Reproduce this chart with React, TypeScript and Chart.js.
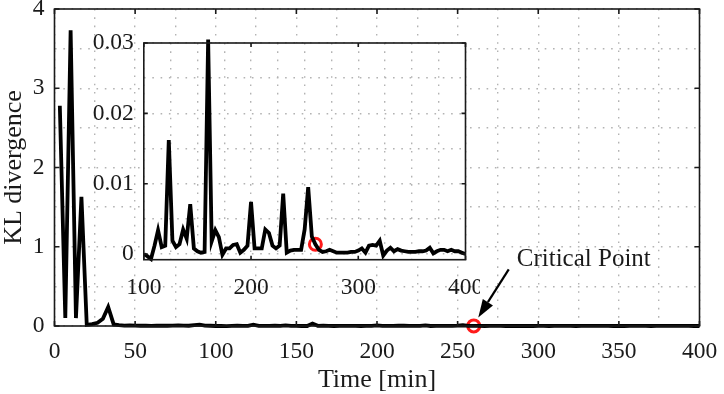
import { useEffect, useRef } from 'react';
import { Chart, registerables } from 'chart.js';

Chart.register(...registerables);

// Sampling instants [min]
const TIME_MIN = [
  3.3, 6.7, 10, 13.3, 16.7, 20, 23.3, 26.7, 30, 33.3,
  36.7, 40, 43.3, 46.7, 50, 53.3, 56.7, 60, 63.3, 66.7,
  70, 73.3, 76.7, 80, 83.3, 86.7, 90, 93.3, 96.7, 100,
  103.3, 106.7, 110, 113.3, 116.7, 120, 123.3, 126.7, 130, 133.3,
  136.7, 140, 143.3, 146.7, 150, 153.3, 156.7, 160, 163.3, 166.7,
  170, 173.3, 176.7, 180, 183.3, 186.7, 190, 193.3, 196.7, 200,
  203.3, 206.7, 210, 213.3, 216.7, 220, 223.3, 226.7, 230, 233.3,
  236.7, 240, 243.3, 246.7, 250, 253.3, 256.7, 260, 263.3, 266.7,
  270, 273.3, 276.7, 280, 283.3, 286.7, 290, 293.3, 296.7, 300,
  303.3, 306.7, 310, 313.3, 316.7, 320, 323.3, 326.7, 330, 333.3,
  336.7, 340, 343.3, 346.7, 350, 353.3, 356.7, 360, 363.3, 366.7,
  370, 373.3, 376.7, 380, 383.3, 386.7, 390, 393.3, 396.7, 400,
];

// KL divergence between consecutive windows
const KL_DIV = [
  2.78, 0.10, 3.73, 0.10, 1.63, 0.015, 0.025, 0.04, 0.09, 0.24,
  0.02, 0.012, 0.006, 0.008, 0.004, 0.003, 0.004, 0.002, 0.003, 0.005,
  0.003, 0.004, 0.007, 0.004, 0.003, 0.010, 0.018, 0.006, 0.003, 0.0,
  -0.0003, -0.0007, 0.0012, 0.0034, 0.0010, 0.0012, 0.0162, 0.0019, 0.0010, 0.0014,
  0.0035, 0.0022, 0.0071, 0.0008, 0.0004, 0.0002, 0.0003, 0.0305, 0.0018, 0.0034,
  0.0024, -0.0001, 0.0008, 0.0008, 0.0013, 0.0014, 0.0002, 0.0006, 0.0012, 0.0074,
  0.0008, 0.0008, 0.0008, 0.0035, 0.0030, 0.0012, 0.0008, 0.0012, 0.0086, 0.0002,
  0.0005, 0.0006, 0.0006, 0.0006, 0.0035, 0.0095, 0.0025, 0.0014, 0.0006, 0.0003,
  0.0004, 0.0006, 0.0004, 0.0002, 0.0002, 0.0002, 0.0002, 0.0003, 0.0003, 0.0005,
  0.0008, 0.0002, 0.0012, 0.0013, 0.0012, 0.0019, -0.0002, 0.0005, 0.0009, 0.0004,
  0.0007, 0.0005, 0.0004, 0.0003, 0.0003, 0.0003, 0.0004, 0.0004, 0.0005, 0.0009,
  0.0001, 0.0004, 0.0006, 0.0006, 0.0004, 0.0006, 0.0004, 0.0004, 0.0002, 0.0,
];

const CRITICAL_TIME = 260;
const CRITICAL_LABEL = 'Critical Point';
const X_TITLE = 'Time [min]';
const Y_TITLE = 'KL divergence';

// Axis ranges / tick steps
const MAIN_X = { min: 0, max: 400, minor: 25, major: 50 };
const MAIN_Y = { min: 0, max: 4, minor: 0.5, major: 1 };
const INSET_X = { min: 100, max: 400, minor: 25, major: 100 };
const INSET_Y = { min: -0.0008, max: 0.03, major: 0.01 };
// Inset y grid positions (labelled every 0.01)
const INSET_Y_GRID = [0, 0.005, 0.01, 0.015, 0.02, 0.025, 0.03];

const SERIF = '"Liberation Serif", "Times New Roman", Times, serif';
const INK = '#1a1a1a';
const GRID = '#b3b3b3';
const RED = '#ff1a1a';

const isMultiple = (v: number, step: number) =>
  Math.abs(v / step - Math.round(v / step)) < 1e-6;

const critIndex = TIME_MIN.indexOf(CRITICAL_TIME);

const seriesPoints = (from: number) =>
  TIME_MIN.map((t, i) => ({ x: t, y: KL_DIV[i] })).filter((p) => p.x >= from);

const criticalPoint = [{ x: TIME_MIN[critIndex], y: KL_DIV[critIndex] }];

function framePlugin(tickLen: number, xMajor: number, yMajor: number) {
  return {
    id: 'axesFrame',
    afterDatasetsDraw(chart: any) {
      const { ctx, chartArea: a, scales } = chart;
      ctx.save();
      ctx.strokeStyle = INK;
      ctx.lineWidth = 1.6;
      ctx.beginPath();
      for (const t of scales.x.ticks) {
        if (!isMultiple(t.value, xMajor)) continue;
        const p = scales.x.getPixelForValue(t.value);
        ctx.moveTo(p, a.bottom);
        ctx.lineTo(p, a.bottom - tickLen);
        ctx.moveTo(p, a.top);
        ctx.lineTo(p, a.top + tickLen);
      }
      for (const t of scales.y.ticks) {
        if (!isMultiple(t.value, yMajor)) continue;
        const p = scales.y.getPixelForValue(t.value);
        ctx.moveTo(a.left, p);
        ctx.lineTo(a.left + tickLen, p);
        ctx.moveTo(a.right, p);
        ctx.lineTo(a.right - tickLen, p);
      }
      ctx.stroke();
      ctx.strokeRect(a.left, a.top, a.right - a.left, a.bottom - a.top);
      ctx.restore();
    },
  };
}

const whitePlotArea = {
  id: 'whitePlotArea',
  beforeDraw(chart: any) {
    const { ctx, chartArea: a } = chart;
    ctx.save();
    ctx.fillStyle = '#ffffff';
    ctx.fillRect(a.left, a.top, a.right - a.left, a.bottom - a.top);
    ctx.restore();
  },
};

// Arrow pointing at the critical sample, with its caption
const criticalArrow = {
  id: 'criticalArrow',
  afterDraw(chart: any) {
    const { ctx, scales } = chart;
    const px = scales.x.getPixelForValue(TIME_MIN[critIndex]);
    const py = scales.y.getPixelForValue(KL_DIV[critIndex]);
    const tip = { x: px + 4.5, y: py - 8.5 };
    const tail = { x: px + 35, y: py - 56.5 };
    const dx = tip.x - tail.x;
    const dy = tip.y - tail.y;
    const len = Math.hypot(dx, dy);
    const ux = dx / len;
    const uy = dy / len;
    const headLen = 18;
    const headHalf = 6;
    const bx = tip.x - ux * headLen;
    const by = tip.y - uy * headLen;
    ctx.save();
    ctx.strokeStyle = '#000';
    ctx.fillStyle = '#000';
    ctx.lineWidth = 2.2;
    ctx.beginPath();
    ctx.moveTo(tail.x, tail.y);
    ctx.lineTo(bx, by);
    ctx.stroke();
    ctx.beginPath();
    ctx.moveTo(tip.x, tip.y);
    ctx.lineTo(bx - uy * headHalf, by + ux * headHalf);
    ctx.lineTo(bx + uy * headHalf, by - ux * headHalf);
    ctx.closePath();
    ctx.fill();
    ctx.font = `25px ${SERIF}`;
    ctx.fillStyle = INK;
    ctx.textAlign = 'left';
    ctx.textBaseline = 'alphabetic';
    ctx.fillText(CRITICAL_LABEL, px + 43, py - 60);
    ctx.restore();
  },
};

const tickFont = () => ({ family: SERIF, size: 23.5, style: 'normal', weight: 'normal', lineHeight: 1.2 });
const titleFont = () => ({ family: SERIF, size: 26, style: 'normal', weight: 'normal', lineHeight: 1.1 });

function gridOpts() {
  return { color: GRID, lineWidth: 1.4, drawTicks: false };
}

function borderOpts() {
  return { display: false, dash: [1.6, 6.7] };
}

export default function App() {
  const mainRef = useRef<HTMLCanvasElement | null>(null);
  const insetRef = useRef<HTMLCanvasElement | null>(null);

  useEffect(() => {
    if (!mainRef.current || !insetRef.current) return;
    Chart.defaults.font.family = SERIF;
    Chart.defaults.color = INK;

    const main = new Chart(mainRef.current, {
      type: 'line',
      data: {
        datasets: [
          {
            data: seriesPoints(MAIN_X.min),
            borderColor: '#000',
            borderWidth: 3.8,
            pointRadius: 0,
            tension: 0,
            clip: { left: 2, right: 2, top: 2, bottom: 4 } as any,
          },
          {
            data: criticalPoint,
            showLine: false,
            pointRadius: 6,
            pointBorderWidth: 3,
            pointBorderColor: RED,
            pointBackgroundColor: 'rgba(0,0,0,0)',
            clip: false as any,
          },
        ],
      },
      options: {
        animation: false,
        responsive: false,
        devicePixelRatio: 1,
        layout: { padding: { top: 7.5, right: 24.5, left: 0, bottom: 0 } },
        plugins: { legend: { display: false }, tooltip: { enabled: false } },
        scales: {
          x: {
            type: 'linear',
            min: MAIN_X.min,
            max: MAIN_X.max,
            grid: gridOpts(),
            border: borderOpts(),
            ticks: {
              stepSize: MAIN_X.minor,
              autoSkip: false,
              maxRotation: 0,
              padding: 12,
              color: INK,
              font: tickFont(),
              callback: (v: any) => (isMultiple(Number(v), MAIN_X.major) ? String(v) : ''),
            },
            title: {
              display: true,
              text: X_TITLE,
              color: INK,
              font: titleFont(),
              padding: 0,
            },
            afterFit: (s: any) => {
              s.height = 68;
              s.paddingLeft = 0;
              s.paddingRight = 0;
            },
          },
          y: {
            type: 'linear',
            min: MAIN_Y.min,
            max: MAIN_Y.max,
            grid: gridOpts(),
            border: borderOpts(),
            ticks: {
              stepSize: MAIN_Y.minor,
              autoSkip: false,
              padding: 10,
              color: INK,
              font: tickFont(),
              callback: (v: any) => (isMultiple(Number(v), MAIN_Y.major) ? String(v) : ''),
            },
            title: {
              display: true,
              text: Y_TITLE,
              color: INK,
              font: titleFont(),
              padding: 0,
            },
            afterFit: (s: any) => {
              s.width = 54.5;
              s.paddingTop = 0;
              s.paddingBottom = 0;
            },
          },
        },
      },
      plugins: [framePlugin(5, MAIN_X.major, MAIN_Y.major), criticalArrow],
    } as any);

    const inset = new Chart(insetRef.current, {
      type: 'line',
      data: {
        datasets: [
          {
            data: seriesPoints(INSET_X.min),
            borderColor: '#000',
            borderWidth: 3.8,
            pointRadius: 0,
            tension: 0,
            clip: { left: 0, right: 0, top: 4, bottom: 3 } as any,
          },
          {
            data: criticalPoint,
            showLine: false,
            pointRadius: 6,
            pointBorderWidth: 3,
            pointBorderColor: RED,
            pointBackgroundColor: 'rgba(0,0,0,0)',
            clip: false as any,
          },
        ],
      },
      options: {
        animation: false,
        responsive: false,
        devicePixelRatio: 1,
        layout: { padding: { top: 18, right: 14.5, left: 0, bottom: 0 } },
        plugins: { legend: { display: false }, tooltip: { enabled: false } },
        scales: {
          x: {
            type: 'linear',
            min: INSET_X.min,
            max: INSET_X.max,
            grid: gridOpts(),
            border: borderOpts(),
            ticks: {
              stepSize: INSET_X.minor,
              autoSkip: false,
              maxRotation: 0,
              padding: 14,
              color: INK,
              font: tickFont(),
              callback: (v: any) => (isMultiple(Number(v), INSET_X.major) ? String(v) : ''),
            },
            afterFit: (s: any) => {
              s.height = 285 - 234.7;
              s.paddingLeft = 0;
              s.paddingRight = 0;
            },
          },
          y: {
            type: 'linear',
            min: INSET_Y.min,
            max: INSET_Y.max,
            grid: gridOpts(),
            border: borderOpts(),
            afterBuildTicks: (s: any) => {
              s.ticks = INSET_Y_GRID.map((v) => ({ value: v }));
            },
            ticks: {
              autoSkip: false,
              padding: 10,
              color: INK,
              font: tickFont(),
              callback: (v: any) => {
                const n = Number(v);
                if (!isMultiple(n, INSET_Y.major)) return '';
                return n === 0 ? '0' : n.toFixed(2);
              },
            },
            afterFit: (s: any) => {
              s.width = 83.8;
              s.paddingTop = 0;
              s.paddingBottom = 0;
            },
          },
        },
      },
      plugins: [whitePlotArea, framePlugin(4, INSET_X.major, INSET_Y.major)],
    } as any);

    return () => {
      main.destroy();
      inset.destroy();
    };
  }, []);

  return (
    <div
      style={{
        position: 'absolute',
        left: 0,
        top: 0,
        width: 724,
        height: 394,
        background: '#ffffff',
        overflow: 'hidden',
      }}
    >
      <canvas
        ref={mainRef}
        width={724}
        height={394}
        style={{ position: 'absolute', left: 0, top: 0, width: 724, height: 394 }}
      />
      <canvas
        ref={insetRef}
        width={420}
        height={285}
        style={{ position: 'absolute', left: 60, top: 25, width: 420, height: 285 }}
      />
    </div>
  );
}
